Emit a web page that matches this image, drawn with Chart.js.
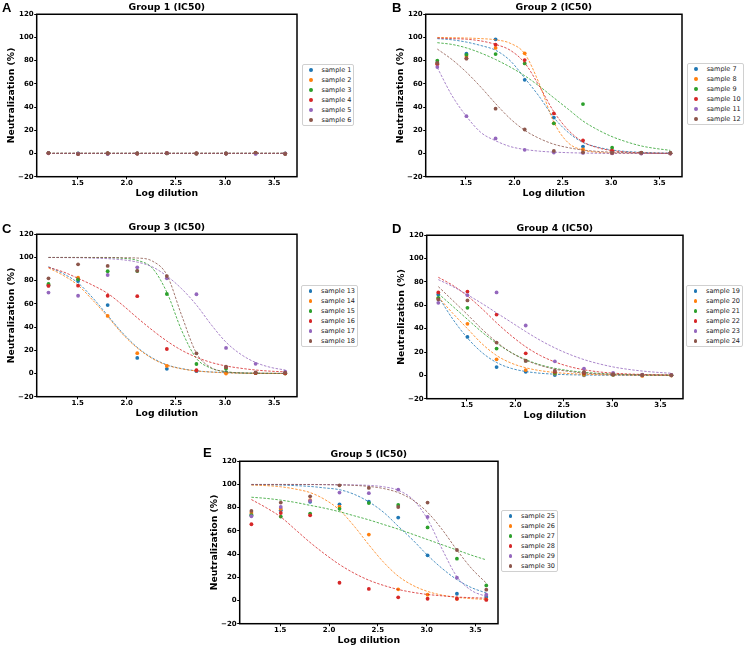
<!DOCTYPE html>
<html>
<head>
<meta charset="utf-8">
<script src="https://cdn.jsdelivr.net/npm/chart.js@4.4.1/dist/chart.umd.min.js"></script>
<style>
  body { margin: 0; background: #fff; width: 745px; height: 647px; position: relative; overflow: hidden; font-family: "DejaVu Sans", sans-serif; }
  canvas { position: absolute; }
  .letter { position: absolute; font: bold 13px "Liberation Sans", Arial, sans-serif; color: #000; line-height: 13px; }
  .legend { position: absolute; border: 1px solid #d0d0d0; border-radius: 2px; background: #fff; padding: 0 2px 0 0; font-size: 6.5px; color: #222; }
  .legend div { height: 10px; line-height: 10px; padding-left: 19px; position: relative; white-space: nowrap; }
  .legend span { position: absolute; left: 6.5px; top: 3.1px; width: 3.8px; height: 3.8px; border-radius: 50%; }
</style>
</head>
<body>
<script>
// couleurs matplotlib (tab10)
const colors = ["#1f77b4", "#ff7f0e", "#2ca02c", "#d62728", "#9467bd", "#8c564b"]

// log10 des dilutions 16 ... 4096
const logDilution = [1.204, 1.505, 1.806, 2.107, 2.408, 2.709, 3.010, 3.311, 3.612]
// abscisses des courbes ajustées
const fitDilution = [1.204, 1.355, 1.505, 1.656, 1.806, 1.957, 2.107, 2.258, 2.408, 2.559, 2.709, 2.860, 3.010, 3.161, 3.311, 3.462, 3.612]

// Group 1
const group1Samples = ["sample 1", "sample 2", "sample 3", "sample 4", "sample 5", "sample 6"]
const group1Points = [
  [0.4, 0.1, 0.2, 0.1, 0.3, 0.1, 0.0, 0.2, 0.0],
  [0.3, -0.2, 0.1, 0.0, 0.2, 0.0, 0.1, 0.3, -0.1],
  [0.6, -0.1, 0.0, 0.1, 0.1, 0.0, 0.0, 0.2, -0.2],
  [0.2, -0.3, 0.1, -0.1, 0.3, 0.1, -0.1, 0.4, -0.2],
  [0.3, -0.2, -0.5, 0.0, 0.2, 0.0, 0.0, -0.4, -0.1],
  [0.4, -0.5, 0.0, 0.0, 0.4, 0.0, -0.1, 0.8, -0.3],
]
const group1Fits = [
  [0.2, 0.2, 0.2, 0.2, 0.2, 0.2, 0.2, 0.2, 0.2, 0.2, 0.2, 0.2, 0.2, 0.2, 0.2, 0.2, 0.2],
  [0.1, 0.1, 0.1, 0.1, 0.1, 0.1, 0.1, 0.1, 0.1, 0.1, 0.1, 0.1, 0.1, 0.1, 0.1, 0.1, 0.1],
  [0.1, 0.1, 0.1, 0.1, 0.1, 0.1, 0.1, 0.1, 0.1, 0.1, 0.1, 0.1, 0.1, 0.1, 0.1, 0.1, 0.1],
  [0.1, 0.1, 0.1, 0.1, 0.1, 0.1, 0.1, 0.1, 0.1, 0.1, 0.1, 0.1, 0.1, 0.1, 0.1, 0.1, 0.1],
  [0.0, 0.0, 0.0, 0.0, 0.0, 0.0, 0.0, 0.0, 0.0, 0.0, 0.0, 0.0, 0.0, 0.0, 0.0, 0.0, 0.0],
  [0.1, 0.1, 0.1, 0.1, 0.1, 0.1, 0.1, 0.1, 0.1, 0.1, 0.1, 0.1, 0.1, 0.1, 0.1, 0.1, 0.1],
]

// Group 2
const group2Samples = ["sample 7", "sample 8", "sample 9", "sample 10", "sample 11", "sample 12"]
const group2Points = [
  [78, 86, 98.4, 63.5, 31, 6, 1.5, 0.5, 0.2],
  [77.5, 84, 91, 86.3, 26, 3.5, 0.3, 0.2, 0],
  [80, 85, 85.7, 77.6, 26, 42.6, 5, 0.8, 0.3],
  [77, 82, 93.8, 80.5, 34.5, 11.2, 2.5, 0.5, 0.2],
  [74.5, 32.2, 13, 3.2, 0.8, 0.5, 0.2, 0, 0],
  [78, 81.7, 38.6, 20.7, 2.2, 1, 0.5, 0.5, 0.4],
]
const group2Fits = [
  [99, 98, 96, 93, 89, 80, 65, 49, 31, 18, 9.5, 5.5, 3, 1.7, 1, 0.5, 0.3],
  [100, 99.8, 99.5, 99, 98, 95, 86, 60, 27, 9, 3, 1, 0.3, 0.1, 0, 0, 0],
  [95.5, 94, 91, 86.5, 81, 74.5, 67, 58, 48, 38, 28, 20.5, 14.5, 10, 6.5, 4.3, 2.7],
  [99.5, 99, 98.5, 97, 94, 89, 78, 58, 36, 20, 10, 5, 2.5, 1.2, 0.6, 0.3, 0.1],
  [74, 50, 32, 18, 11, 6, 3.5, 2, 1.2, 0.7, 0.4, 0.2, 0.1, 0.1, 0, 0, 0],
  [90, 81, 70, 57, 43, 30, 20, 13, 8, 5, 3, 1.8, 1.1, 0.7, 0.4, 0.25, 0.15],
]

// Group 3
const group3Samples = ["sample 13", "sample 14", "sample 15", "sample 16", "sample 17", "sample 18"]
const group3Points = [
  [76, 79.7, 59, 13.4, 4, 2, 1, 0.3, 0.1],
  [76.5, 82.6, 49.6, 17.5, 6.5, 2.5, 0, 0.3, 0],
  [77.2, 81.2, 88.1, 88.3, 68.5, 8.2, 4, 0.5, 0.2],
  [75.5, 75.7, 67, 66.6, 21.1, 2.8, 5.5, 0.5, 0.3],
  [69.7, 67, 84.9, 91.5, 82, 68.3, 22, 8.3, 1.5],
  [82, 94.1, 92.7, 88.5, 84, 17.4, 5.8, 1, 0.8],
]
const group3Fits = [
  [92, 86, 78, 65, 50, 35, 22.5, 13.5, 7.5, 4.2, 2.3, 1.3, 0.7, 0.4, 0.2, 0.1, 0.05],
  [91, 84.5, 76, 63, 49, 34, 22, 13, 7.2, 4, 2.2, 1.2, 0.6, 0.3, 0.2, 0.1, 0.05],
  [100, 100, 100, 99.9, 99.8, 99.3, 97.5, 91, 70, 37, 13, 4.5, 1.5, 0.5, 0.2, 0.1, 0],
  [91.5, 87.5, 82, 76, 69, 59, 48, 37.5, 28, 20, 14, 9.5, 6.5, 4.5, 3, 2, 1.4],
  [100, 99.9, 99.8, 99.5, 99, 98, 96, 92, 84, 73, 59, 42, 27, 16.5, 9.5, 5.3, 3],
  [100, 100, 100, 100, 100, 99.8, 99.5, 97, 85, 50, 17.5, 5, 1.5, 0.5, 0.2, 0.1, 0],
]

// Group 4
const group4Samples = ["sample 19", "sample 20", "sample 21", "sample 22", "sample 23", "sample 24"]
const group4Points = [
  [69.3, 32.9, 7.1, 3, 0.3, 0, 0.3, 0, 0],
  [66, 44.1, 13.7, 4.5, 1.5, 0.5, 0.5, -0.5, -0.2],
  [66.4, 57.8, 22.9, 12.6, 2, 1.5, 0.8, 0.2, 0],
  [71, 71.8, 52.1, 18.9, 3, 2, 1, 0.3, 0.2],
  [62.1, 68.7, 71, 42.7, 12, 5.8, 2, 0.5, 0.3],
  [65, 64.2, 28.1, 12.4, 4, 3, 1, 0.3, 0.2],
]
const group4Fits = [
  [67.5, 48, 32, 19.5, 11, 6, 3.3, 1.8, 1, 0.5, 0.3, 0.15, 0.1, 0, 0, 0, 0],
  [67, 53, 40, 27, 17, 10.5, 6.5, 4, 2.5, 1.5, 1, 0.6, 0.4, 0.25, 0.15, 0.1, 0.05],
  [70, 59, 48, 37, 27.5, 19.5, 13.5, 9, 6, 4, 2.6, 1.7, 1.1, 0.7, 0.45, 0.3, 0.2],
  [84, 77, 68, 57, 45, 34, 24.5, 17, 11.5, 7.5, 4.8, 3, 1.9, 1.2, 0.75, 0.5, 0.3],
  [82, 76, 69, 61.5, 53.5, 45.5, 37.5, 30, 23.5, 18, 13.5, 10, 7.2, 5.2, 3.7, 2.6, 1.8],
  [76, 64, 52, 39.5, 28.5, 19.5, 13, 8.5, 5.3, 3.3, 2, 1.3, 0.8, 0.5, 0.3, 0.2, 0.1],
]

// Group 5
const group5Samples = ["sample 25", "sample 26", "sample 27", "sample 28", "sample 29", "sample 30"]
const group5Points = [
  [74, 77.7, 85, 82.9, 85.2, 71.5, 38.9, 5.8, 3],
  [75.4, 79, 86.5, 80.9, 56.8, 9.6, 5, 1.5, 1],
  [73.5, 72.3, 74.9, 79, 84, 82.4, 63, 36, 13],
  [65.7, 75.4, 73.4, 15.3, 10, 2.7, 1.5, 1.5, 0.5],
  [72.6, 80.6, 85.8, 93, 92.5, 95.6, 72, 19.7, 5],
  [77.2, 84.4, 89.8, 99.3, 97, 80.6, 84.4, 43.5, 9.3],
]
const group5Fits = [
  [99.8, 99.7, 99.5, 99, 98.3, 97, 95.5, 91.5, 85, 76, 64, 52, 39, 27.5, 18, 11, 6.5],
  [99.5, 99, 98, 96, 93, 87, 78, 64, 48, 33, 21, 13, 7.8, 4.6, 2.7, 1.6, 0.9],
  [89, 88, 86.5, 84.5, 82, 79.5, 76.5, 73, 69.5, 65.5, 61.5, 57, 52.5, 48, 43.5, 39, 35],
  [87, 80, 72, 61, 50, 40, 31, 23.5, 17.5, 13, 9.5, 7, 5.2, 4, 3, 2.4, 2],
  [100, 100, 100, 100, 100, 99.9, 99.8, 99.6, 99.2, 98, 95, 87, 70, 44, 20.5, 8.5, 3.5],
  [100, 100, 100, 100, 99.9, 99.8, 99.6, 99.2, 98.3, 96.5, 93, 86.5, 76, 61, 43.5, 27.5, 15],
]

const FONT = '"DejaVu Sans", sans-serif'

// cadre noir autour de la zone du graphique
const framePlugin = {
  id: "frame",
  afterDatasetsDraw(chart) {
    const { ctx, chartArea: a } = chart
    ctx.save()
    ctx.strokeStyle = "#000"
    ctx.lineWidth = 1.5
    ctx.strokeRect(a.left, a.top, a.right - a.left, a.bottom - a.top)
    ctx.restore()
  },
}

function addText(cls, text, left, top) {
  const el = document.createElement("div")
  el.className = cls
  el.textContent = text
  el.style.left = left + "px"
  el.style.top = top + "px"
  document.body.appendChild(el)
}

function addLegend(samples, left, top) {
  const box = document.createElement("div")
  box.className = "legend"
  box.style.left = left + "px"
  box.style.top = top + "px"
  samples.forEach((name, i) => {
    const row = document.createElement("div")
    const dot = document.createElement("span")
    dot.style.background = colors[i]
    row.appendChild(dot)
    row.appendChild(document.createTextNode(name))
    box.appendChild(row)
  })
  document.body.appendChild(box)
}

// plot = [gauche, haut, droite, bas] de la zone de tracé
function drawPanel(title, samples, points, fits, plot) {
  const yAxisW = 36.7
  const titleH = 14.3
  const xAxisH = 23.3
  const left = plot[0] - yAxisW
  const top = plot[1] - titleH
  const width = Math.ceil(plot[2] - left + 3)
  const height = Math.round(plot[3] - top + xAxisH)
  const padRight = width - (plot[2] - left)

  const canvas = document.createElement("canvas")
  canvas.width = width
  canvas.height = height
  canvas.style.left = left + "px"
  canvas.style.top = top + "px"
  document.body.appendChild(canvas)

  const datasets = []
  samples.forEach((name, i) => {
    datasets.push({
      label: name,
      data: logDilution.map((x, k) => ({ x, y: points[i][k] })),
      showLine: false,
      pointRadius: 1.9,
      pointBorderWidth: 0,
      pointBackgroundColor: colors[i],
      borderColor: colors[i],
      order: 100 - 2 * i,
    })
    datasets.push({
      label: name + " fit",
      data: fitDilution.map((x, k) => ({ x, y: fits[i][k] })),
      borderColor: colors[i] + "cc",
      borderWidth: 1,
      borderDash: [2.5, 1.5],
      pointRadius: 0,
      cubicInterpolationMode: "monotone",
      order: 99 - 2 * i,
    })
  })

  const tickFont = { family: FONT, size: 7, weight: "bold" }
  const labelFont = { family: FONT, size: 9.3, weight: "bold" }

  new Chart(canvas, {
    type: "line",
    data: { datasets },
    plugins: [framePlugin],
    options: {
      responsive: false,
      animation: false,
      layout: { padding: { left: 0, top: 0, right: padRight, bottom: 0 } },
      plugins: {
        legend: { display: false },
        tooltip: { enabled: false },
        title: {
          display: true,
          text: title,
          fullSize: false,
          color: "#000",
          font: labelFont,
          padding: { top: 1.8, bottom: 1.3 },
        },
      },
      scales: {
        x: {
          type: "linear",
          min: 1.084,
          max: 3.732,
          afterFit: (s) => { s.height = xAxisH },
          border: { display: false },
          grid: { drawOnChartArea: false, tickLength: 2.5, color: "#000" },
          ticks: {
            stepSize: 0.5,
            includeBounds: false,
            maxRotation: 0,
            padding: 0,
            color: "#000",
            font: tickFont,
            callback: (v) => v.toFixed(1),
          },
          title: { display: true, text: "Log dilution", color: "#000", font: labelFont, padding: { top: 0, bottom: 1.3 } },
        },
        y: {
          min: -20,
          max: 120,
          afterFit: (s) => { s.width = yAxisW },
          border: { display: false },
          grid: { drawOnChartArea: false, tickLength: 2.5, color: "#000" },
          ticks: {
            stepSize: 20,
            padding: 0.5,
            color: "#000",
            font: tickFont,
            callback: (v) => (v < 0 ? "\u2212" + Math.abs(v) : String(v)),
          },
          title: { display: true, text: "Neutralization (%)", color: "#000", font: labelFont, padding: { top: 6.3, bottom: 0 } },
        },
      },
    },
  })
}

drawPanel("Group 1 (IC50)", group1Samples, group1Points, group1Fits, [36.7, 14.3, 297.7, 176.7])
drawPanel("Group 2 (IC50)", group2Samples, group2Points, group2Fits, [426, 14.3, 683, 176.5])
drawPanel("Group 3 (IC50)", group3Samples, group3Points, group3Fits, [36.7, 234.3, 297.7, 396.7])
drawPanel("Group 4 (IC50)", group4Samples, group4Points, group4Fits, [426.5, 235.3, 683, 398.3])
drawPanel("Group 5 (IC50)", group5Samples, group5Points, group5Fits, [239.3, 461, 497.7, 623.3])

addLegend(group1Samples, 301.5, 64.3)
addLegend(group2Samples, 686.7, 63.3)
addLegend(group3Samples, 301, 285)
addLegend(group4Samples, 686, 285)
addLegend(group5Samples, 501, 510)

addText("letter", "A", 2, 1)
addText("letter", "B", 392, 1)
addText("letter", "C", 2, 222)
addText("letter", "D", 392, 222)
addText("letter", "E", 203, 446)
</script>
</body>
</html>
